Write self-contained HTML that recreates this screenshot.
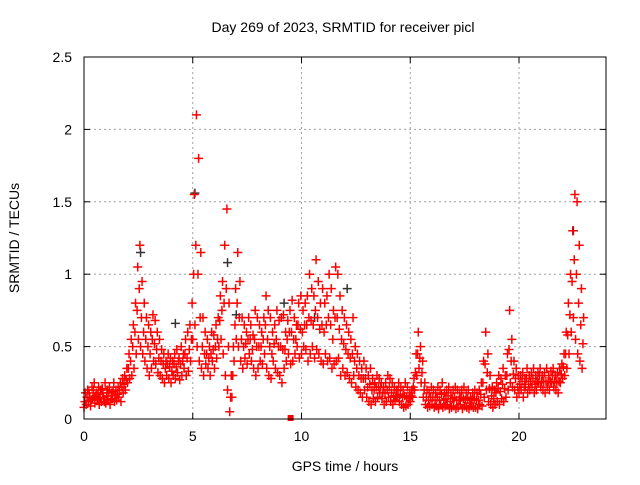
<!DOCTYPE html>
<html><head><meta charset="utf-8"><style>
body{margin:0;background:#fff}
svg{font-family:"Liberation Sans",sans-serif;font-size:14px}
</style></head><body>
<svg id="chart" width="640" height="480" viewBox="0 0 640 480">
<rect width="640" height="480" fill="#fff"/>
<text x="343" y="32" text-anchor="middle">Day 269 of 2023, SRMTID for receiver picl</text>
<text transform="translate(19,238) rotate(-90)" text-anchor="middle">SRMTID / TECUs</text>
<text x="345" y="471" text-anchor="middle">GPS time / hours</text>
<g id="grid"></g>
<g id="ticks"></g>
<g id="marks"></g>
<rect x="84" y="57" width="522" height="362" fill="none" stroke="#000" stroke-width="1"/>
</svg>
<script>
const xTicks=[0,5,10,15,20];
const yTicks=[0,0.5,1,1.5,2,2.5];
const yTickLabels=["0","0.5","1","1.5","2","2.5"];
const lowVals=[.08,.10,.12,.09,.14,.11,.13,.10,.12,.15,.11,.13,.10,.14,.12,.13,.15,.12,.18,.20,.25,.28,.30,.35,.45,.55,.50,.45,.40,.35,.30,.35,.40,.38,.32,.30,.28,.25,.30,.28,.25,.30,.28,.32,.27,.30,.35,.30,.33,.40,.55,.65,.50,.40,.35,.30,.38,.35,.30,.40,.35,.42,.50,.55,.45,.30,.20,.05,.15,.40,.55,.50,.40,.35,.42,.38,.45,.40,.35,.30,.35,.40,.38,.45,.35,.30,.28,.40,.35,.32,.30,.25,.35,.40,.45,.38,.40,.45,.50,.42,.45,.50,.48,.40,.45,.50,.42,.48,.45,.40,.38,.45,.40,.42,.35,.38,.40,.42,.30,.35,.30,.32,.28,.25,.30,.22,.20,.18,.15,.20,.15,.12,.10,.14,.12,.15,.18,.14,.10,.12,.15,.12,.10,.13,.15,.12,.10,.08,.09,.10,.12,.15,.20,.30,.35,.25,.15,.10,.08,.09,.10,.08,.09,.07,.10,.08,.09,.10,.07,.08,.09,.07,.08,.10,.07,.09,.08,.07,.09,.08,.08,.07,.10,.09,.15,.20,.12,.10,.08,.10,.12,.10,.14,.12,.15,.20,.25,.22,.20,.15,.18,.20,.15,.22,.18,.20,.22,.18,.20,.25,.22,.20,.18,.22,.20,.25,.22,.20,.18,.25,.28,.30,.35,.45,.60,.70,.55,.45,.40,.35];
const highVals=[.18,.20,.15,.22,.25,.18,.22,.20,.18,.25,.20,.22,.18,.25,.20,.22,.25,.28,.30,.35,.45,.55,.65,.80,1.05,1.20,.95,.80,.70,.65,.60,.72,.68,.60,.55,.48,.45,.40,.45,.42,.40,.45,.48,.42,.50,.45,.55,.60,.65,.80,1.55,2.10,1.80,1.15,.70,.60,.55,.50,.60,.58,.65,.70,.85,.95,1.20,1.45,.80,.30,.50,.90,1.15,.95,.70,.65,.60,.70,.65,.58,.75,.70,.65,.60,.70,.85,.75,.70,.60,.65,.75,.68,.70,.72,.60,.68,.75,.82,.70,.65,.80,.85,.75,.80,.85,1.00,.90,.85,1.10,.95,.80,.90,.80,.85,1.00,.90,.75,1.05,1.00,.85,.75,.70,.65,.60,.55,.70,.50,.45,.40,.35,.40,.35,.30,.35,.28,.25,.30,.28,.25,.22,.25,.30,.28,.25,.22,.20,.25,.22,.20,.25,.22,.18,.20,.28,.45,.60,.50,.40,.25,.20,.18,.22,.20,.18,.22,.20,.25,.18,.20,.22,.18,.20,.22,.20,.18,.20,.22,.18,.20,.15,.18,.20,.18,.20,.25,.40,.60,.45,.30,.22,.20,.25,.30,.28,.35,.30,.45,.75,.55,.40,.35,.30,.30,.32,.28,.35,.30,.32,.35,.30,.32,.35,.30,.32,.35,.30,.33,.35,.30,.32,.35,.38,.45,.60,.80,1.00,1.30,1.55,1.50,1.20,.90,.70];
const midVals=[.12,.15,.18,.13,.20,.16,.17,.14,.21,.12,.16,.18,.14,.19,.16,.17,.20,.22,.24,.27,.35,.40,.50,.60,.75,.90,.70,.60,.55,.50,.45,.55,.52,.48,.42,.40,.38,.35,.38,.36,.33,.38,.36,.40,.38,.40,.45,.42,.48,.55,1.00,1.20,1.00,.70,.50,.45,.45,.42,.45,.48,.50,.55,.68,.75,.80,.90,.50,.15,.30,.65,.80,.70,.55,.50,.52,.55,.55,.48,.55,.50,.50,.50,.55,.65,.55,.50,.45,.52,.55,.50,.50,.48,.48,.55,.60,.60,.55,.55,.65,.62,.60,.65,.65,.70,.68,.65,.75,.70,.62,.65,.60,.65,.70,.65,.55,.70,.70,.62,.55,.52,.48,.45,.42,.45,.40,.35,.30,.28,.28,.28,.22,.24,.20,.20,.22,.22,.22,.18,.18,.20,.22,.18,.16,.16,.20,.17,.15,.16,.15,.14,.16,.22,.32,.45,.42,.32,.20,.15,.13,.15,.15,.13,.15,.13,.17,.13,.14,.16,.12,.14,.15,.13,.13,.15,.14,.13,.14,.11,.13,.14,.13,.13,.17,.25,.38,.32,.21,.16,.14,.18,.21,.19,.24,.21,.30,.48,.40,.31,.28,.22,.24,.26,.22,.28,.24,.26,.28,.24,.26,.30,.26,.26,.26,.26,.26,.30,.26,.26,.26,.31,.36,.45,.58,.72,.95,1.10,1.00,.80,.65,.52];
const blackTimes=[2.6,5.1,6.6,7.0,9.2,10.6,12.1,22.5,0.5,4.2];
const blackVals=[1.15,1.56,1.08,.72,.80,.70,.90,1.30,.15,.66];
const outlierTimes=[9.5];
const outlierVals=[0];
const X0=84,X1=606,Y0=419,Y1=57,XMAX=24,YMAX=2.5;
const sx=t=>X0+t/XMAX*(X1-X0);
const sy=v=>Y0-v/YMAX*(Y0-Y1);
const NS="http://www.w3.org/2000/svg";
const grid=document.getElementById('grid'),ticks=document.getElementById('ticks'),marks=document.getElementById('marks');
function mk(tag,attrs,parent){const e=document.createElementNS(NS,tag);for(const k in attrs)e.setAttribute(k,attrs[k]);parent.appendChild(e);return e;}
xTicks.forEach(t=>{const x=sx(t);
 if(t>0){const g=mk('line',{x1:x,y1:Y0,x2:x,y2:Y1,stroke:'#a0a0a0','stroke-dasharray':'2,3'},grid);
 
 }
 mk('line',{x1:x,y1:Y0,x2:x,y2:Y0-6,stroke:'#000'},ticks);mk('line',{x1:x,y1:Y1,x2:x,y2:Y1+6,stroke:'#000'},ticks);
 const l=mk('text',{x:x,y:Y0+22,'text-anchor':'middle'},ticks);l.textContent=t;
 
 });
yTicks.forEach((v,i)=>{const y=sy(v);
 if(v>0&&v<YMAX){const g=mk('line',{x1:X0,y1:y,x2:X1,y2:y,stroke:'#a0a0a0','stroke-dasharray':'2,3'},grid);
 
 }
 mk('line',{x1:X0,y1:y,x2:X0+6,y2:y,stroke:'#000'},ticks);mk('line',{x1:X1,y1:y,x2:X1-6,y2:y,stroke:'#000'},ticks);
 const l=mk('text',{x:X0-12,y:y+5,'text-anchor':'end'},ticks);l.textContent=yTickLabels[i];
 
 });
function plus(t,v,color){const x=sx(t),y=sy(v);
 const p=mk('path',{d:`M${x-4.5},${y}h9M${x},${y-4.5}v9`,stroke:color,'stroke-width':1.5,fill:'none'},marks);
 
 }
blackTimes.forEach((t,i)=>plus(t,blackVals[i],'#333'));
lowVals.forEach((v,i)=>plus(i*0.1,v,'#f00'));
midVals.forEach((v,i)=>plus(i*0.1+0.04,v,'#f00'));
highVals.forEach((v,i)=>plus(i*0.1+0.07,v,'#f00'));
outlierTimes.forEach((t,i)=>{const r=mk('rect',{x:sx(t)-3,y:sy(outlierVals[i])-4,width:6,height:6,fill:'#f00'},marks);
 
 });
</script>
</body></html>
